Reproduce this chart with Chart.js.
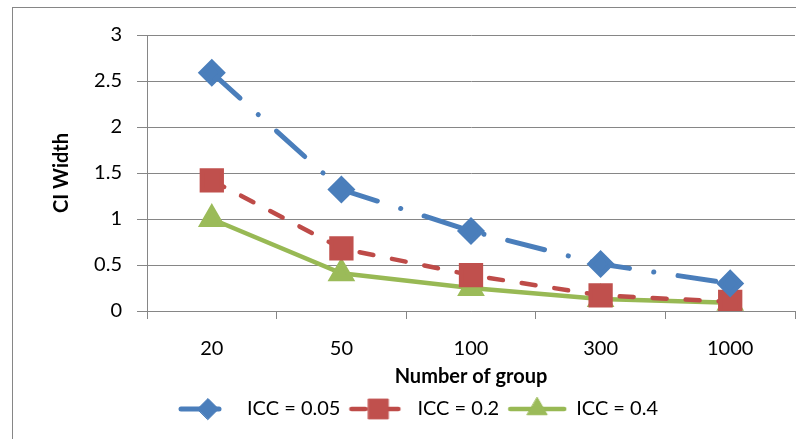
<!DOCTYPE html>
<html>
<head>
<meta charset="utf-8">
<script src="https://cdn.jsdelivr.net/npm/chart.js@4"></script>
<style>
  body { margin: 0; background: #fff; }
  canvas { display: block; }
</style>
</head>
<body>
<canvas id="ciChart" width="796" height="439"></canvas>
<script>
// number of groups on the x axis
const groups = ["20", "50", "100", "300", "1000"];

// CI width per ICC level
const icc005 = [2.59, 1.32, 0.87, 0.51, 0.30];
const icc02 = [1.42, 0.68, 0.39, 0.17, 0.10];
const icc04 = [1.00, 0.41, 0.25, 0.13, 0.09];

const seriesLabels = ["ICC = 0.05", "ICC = 0.2", "ICC = 0.4"];

const FONT = "Lato, 'Open Sans', sans-serif";
const GRID = "#868686";

// legend sample: a short line in the series style with its marker in the middle
function legendSymbol(ds) {
  const c = document.createElement("canvas");
  c.width = 60;
  c.height = 26;
  const ctx = c.getContext("2d");
  ctx.strokeStyle = ds.borderColor;
  ctx.lineWidth = ds.borderWidth;
  ctx.lineCap = "round";
  ctx.setLineDash(ds.borderDash || []);
  ctx.beginPath();
  ctx.moveTo(3, 13);
  ctx.lineTo(57, 13);
  ctx.stroke();
  ctx.setLineDash([]);
  ctx.fillStyle = ds.pointBackgroundColor;
  ctx.strokeStyle = ds.pointBorderColor;
  ctx.lineWidth = 1;
  Chart.helpers.drawPoint(ctx, {
    pointStyle: ds.pointStyle,
    radius: ds.pointRadius,
    borderWidth: 1,
    rotation: 0
  }, 30, 13);
  return c;
}

const frame = {
  id: "frame",
  beforeDraw(chart) {
    const ctx = chart.ctx;
    ctx.save();
    ctx.fillStyle = "#fff";
    ctx.fillRect(0, 0, chart.width, chart.height);
    ctx.strokeStyle = GRID;
    ctx.lineWidth = 1;
    ctx.strokeRect(12.5, 7.5, chart.width + 20, chart.height + 20);
    ctx.restore();
  }
};

const datasets = [
  {
    label: seriesLabels[0],
    data: icc005,
    borderColor: "#4a7ebb",
    borderWidth: 5,
    borderDash: [38, 24.5, 0.1, 24.5],
    borderCapStyle: "round",
    pointStyle: "rectRot",
    pointRadius: 10.5,
    pointBackgroundColor: "#4a7ebb",
    pointBorderColor: "#4a7ebb",
    tension: 0
  },
  {
    label: seriesLabels[1],
    data: icc02,
    borderColor: "#be4b48",
    borderWidth: 4.5,
    borderDash: [14, 19],
    borderCapStyle: "round",
    pointStyle: "rect",
    pointRadius: 14,
    pointBackgroundColor: "#c0504d",
    pointBorderColor: "#c0504d",
    tension: 0
  },
  {
    label: seriesLabels[2],
    data: icc04,
    borderColor: "#98b954",
    borderWidth: 4.5,
    borderCapStyle: "round",
    pointStyle: "triangle",
    pointRadius: 11.5,
    pointBackgroundColor: "#9bbb59",
    pointBorderColor: "#9bbb59",
    tension: 0
  }
];

new Chart(document.getElementById("ciChart"), {
  type: "line",
  data: { labels: groups, datasets: datasets },
  plugins: [frame],
  options: {
    responsive: false,
    animation: false,
    devicePixelRatio: 1,
    layout: {
      autoPadding: false,
      padding: { left: 42, right: 1, top: 35, bottom: 10 }
    },
    plugins: {
      tooltip: { enabled: false },
      legend: {
        position: "bottom",
        labels: {
          font: { family: FONT, size: 20 },
          color: "#000",
          usePointStyle: true,
          pointStyleWidth: 58,
          padding: 9,
          generateLabels(chart) {
            const items = Chart.defaults.plugins.legend.labels.generateLabels(chart);
            return items.map((it, i) => {
              it.pointStyle = legendSymbol(chart.data.datasets[i]);
              return it;
            });
          }
        }
      }
    },
    scales: {
      x: {
        offset: true,
        grid: {
          offset: true,
          drawOnChartArea: false,
          drawTicks: true,
          tickLength: 8,
          color: GRID
        },
        border: { color: GRID, width: 1 },
        ticks: {
          font: { family: FONT, size: 20 },
          color: "#000",
          padding: 18,
          maxRotation: 0
        },
        title: {
          display: true,
          text: "Number of group",
          font: { family: FONT, size: 20, weight: "bold" },
          color: "#000",
          padding: { top: 0, bottom: 1 }
        },
        afterFit(scale) {
          scale.height = 79;
          scale.paddingLeft = 0;
          scale.paddingRight = 0;
        }
      },
      y: {
        min: 0,
        max: 3,
        ticks: {
          stepSize: 0.5,
          font: { family: FONT, size: 20 },
          color: "#000",
          padding: 15,
          callback: (v) => String(Number(v.toFixed(1)))
        },
        grid: {
          color: GRID,
          tickLength: 10
        },
        border: { color: GRID, width: 1 },
        title: {
          display: true,
          text: "CI Width",
          font: { family: FONT, size: 20, weight: "bold" },
          color: "#000",
          padding: { top: 8, bottom: 0 }
        },
        afterFit(scale) { scale.width = 105; }
      }
    }
  }
});
</script>
</body>
</html>
